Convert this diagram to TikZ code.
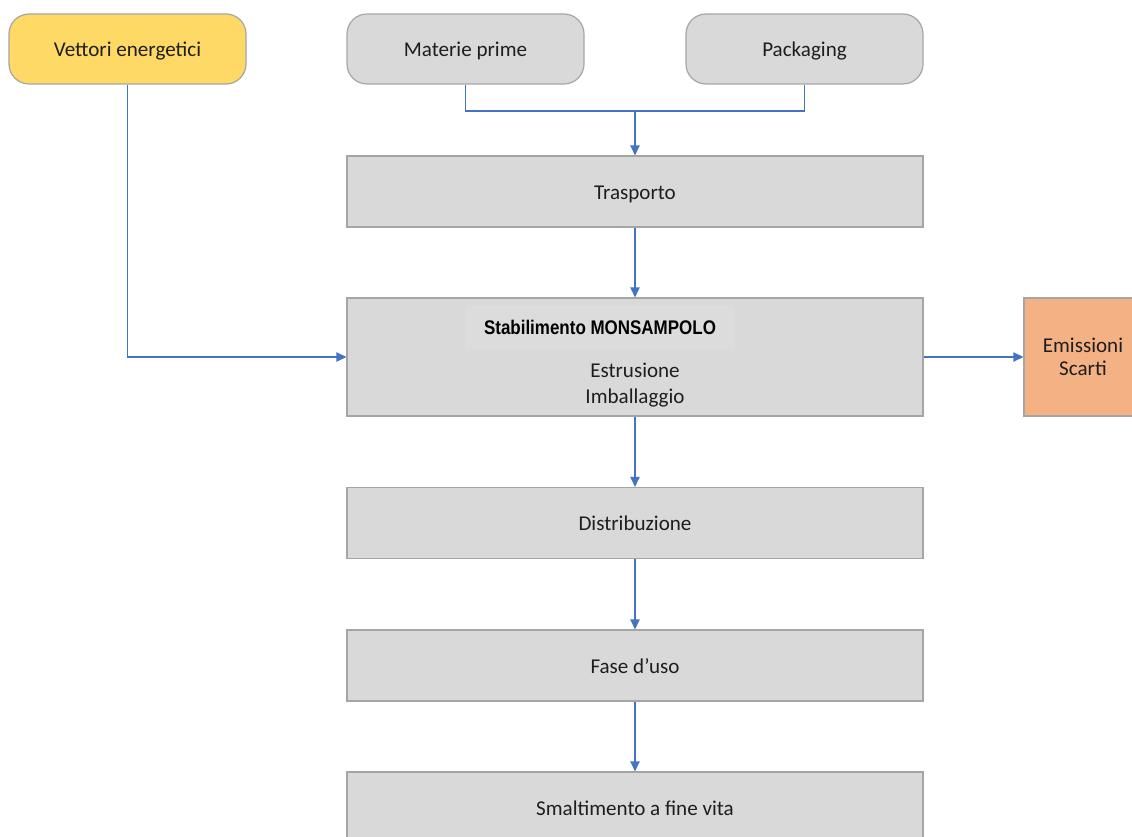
\documentclass[tikz,border=0pt]{standalone}
\usepackage{fontspec}
\setmainfont{Carlito}
\newfontfamily\titlefont[FakeStretch=0.86]{Liberation Sans}
\usepackage{xcolor}
\usetikzlibrary{arrows.meta,positioning}
\definecolor{boxgray}{HTML}{D9D9D9}
\definecolor{edgegray}{HTML}{A5A5A5}
\definecolor{linkblue}{HTML}{4472C4}
\definecolor{energy}{HTML}{FFD966}
\definecolor{waste}{HTML}{F4B183}
\definecolor{txt}{HTML}{1E1E1E}

\begin{document}
\begin{tikzpicture}[x=0.75pt,y=-0.75pt,font=\fontsize{15.8}{19.5}\selectfont,>={Triangle[length=7.5pt,width=7pt]},
  phase/.style={draw=edgegray,fill=boxgray,line width=0.9pt,minimum width=432pt,minimum height=53.25pt,text=txt,align=center,inner sep=0pt,text height=15pt,text depth=3pt},
  input/.style={phase,rounded corners=15pt,minimum width=177.75pt,minimum height=52.5pt},
  link/.style={draw=linkblue,line width=1pt}]
\useasboundingbox (0,0) rectangle (1132,837);
\begin{scope}
\clip (0,0) rectangle (1132,837);
\node[input,fill=energy] (vettori) at (127.5,49) {Vettori energetici};
\node[input] (materie) at (465.5,49) {Materie prime};
\node[input] (packaging) at (804.5,49) {Packaging};
\node[phase] (trasporto) at (635,191.5) {Trasporto};
\node[phase,minimum height=88.5pt] (stab) at (635,357) {};
\node[fill={rgb,255:red,220;green,220;blue,220},minimum width=202pt,minimum height=33pt,inner sep=0pt] (stabtitle) at (600,327) {\titlefont\bfseries\fontsize{14.8}{17}\selectfont Stabilimento MONSAMPOLO};
\node[text=txt,align=center] (stabtext) at (635,385) {Estrusione\\Imballaggio};
\node[phase,text height={},text depth={},fill=waste,minimum width=88.5pt,minimum height=88.5pt] (emissioni) at (1083,357) {Emissioni\\[-2pt]Scarti};
\node[phase] (distribuzione) at (635,523) {Distribuzione};
\node[phase] (uso) at (635,665.5) {Fase d’uso};
\node[phase] (smaltimento) at (635,807.5) {Smaltimento a fine vita};
\end{scope}
\coordinate (join) at (635,111);
\draw[link] (materie.south) |- (join) -| (packaging.south);
\draw[link,->] (join) -- (trasporto.north);
\draw[link,->] (trasporto) -- (stab);
\draw[link,->] (vettori.south) |- (stab.west);
\draw[link,->] (stab.east) -- (emissioni.west);
\draw[link,->] (stab) -- (distribuzione);
\draw[link,->] (distribuzione) -- (uso);
\draw[link,->] (uso) -- (smaltimento);
\end{tikzpicture}
\end{document}
